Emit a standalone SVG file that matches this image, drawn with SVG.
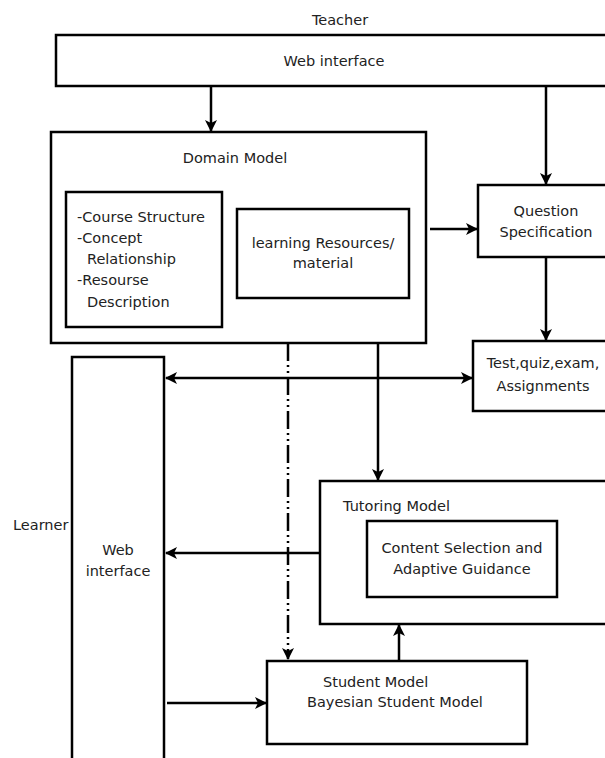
<svg xmlns="http://www.w3.org/2000/svg" width="605" height="758" viewBox="0 0 605 758">
<defs>
<style>
text{font-family:"DejaVu Sans","Liberation Sans",sans-serif;font-size:14.5px;fill:#222}
.c{text-anchor:middle}
.box{fill:#fff;stroke:#000;stroke-width:2.5}
.ln{fill:none;stroke:#000;stroke-width:2.5}
.dd{stroke-dasharray:18 4 2 4 2 4}
</style>
<marker id="ah" viewBox="0 0 12 12" refX="11" refY="6" markerWidth="12" markerHeight="12" markerUnits="userSpaceOnUse" orient="auto-start-reverse">
<path d="M0,0 L12,6 L0,12 L3,6 Z" fill="#000"/>
</marker>
</defs>
<rect width="605" height="758" fill="#fff"/>
<g id="teacher-label"><text class="c" x="340" y="25">Teacher</text></g>
<g id="teacher-web"><rect class="box" x="56" y="35" width="560" height="51"/><text class="c" x="334" y="66">Web interface</text></g>
<g id="domain-model">
<rect class="box" x="51" y="132" width="375" height="211"/>
<text class="c" x="235" y="163">Domain Model</text>
<rect class="box" x="66" y="192" width="156" height="135"/>
<text x="77" y="222">-Course Structure</text>
<text x="77" y="243">-Concept</text>
<text x="87" y="264">Relationship</text>
<text x="77" y="285">-Resourse</text>
<text x="87" y="307">Description</text>
<rect class="box" x="237" y="209" width="172" height="89"/>
<text class="c" x="323" y="248">learning Resources/</text>
<text class="c" x="323" y="268">material</text>
</g>
<g id="question-spec"><rect class="box" x="478" y="185" width="140" height="72"/><text class="c" x="546" y="216">Question</text><text class="c" x="546" y="237">Specification</text></g>
<g id="test"><rect class="box" x="473" y="341" width="145" height="70"/><text class="c" x="543" y="368">Test,quiz,exam,</text><text class="c" x="543" y="391">Assignments</text></g>
<g id="learner-label"><text x="13" y="530">Learner</text></g>
<g id="learner-web"><rect class="box" x="72" y="357" width="92" height="410"/><text class="c" x="118" y="555">Web</text><text class="c" x="118" y="576">interface</text></g>
<g id="tutoring-model">
<rect class="box" x="320" y="481" width="298" height="143"/>
<text x="343" y="511">Tutoring Model</text>
<rect class="box" x="367" y="521" width="190" height="76"/>
<text class="c" x="462" y="553">Content Selection and</text>
<text class="c" x="462" y="574">Adaptive Guidance</text>
</g>
<g id="student-model">
<rect class="box" x="267" y="661" width="260" height="83"/>
<text x="323" y="687">Student Model</text>
<text x="307" y="707">Bayesian Student Model</text>
</g>
<g id="connectors">
<path class="ln" d="M211,86 V131" marker-end="url(#ah)"/>
<path class="ln" d="M546,86 V184" marker-end="url(#ah)"/>
<path class="ln" d="M430,229 H477" marker-end="url(#ah)"/>
<path class="ln" d="M546,257 V340" marker-end="url(#ah)"/>
<path class="ln" d="M166,378 H472" marker-start="url(#ah)" marker-end="url(#ah)"/>
<path class="ln" d="M378,343 V480" marker-end="url(#ah)"/>
<path class="ln" d="M320,553 H166" marker-end="url(#ah)"/>
<path class="ln dd" d="M288,343 V659" marker-end="url(#ah)"/>
<path class="ln" d="M167,703 H266" marker-end="url(#ah)"/>
<path class="ln" d="M399,661 V625" marker-end="url(#ah)"/>
</g>
</svg>
